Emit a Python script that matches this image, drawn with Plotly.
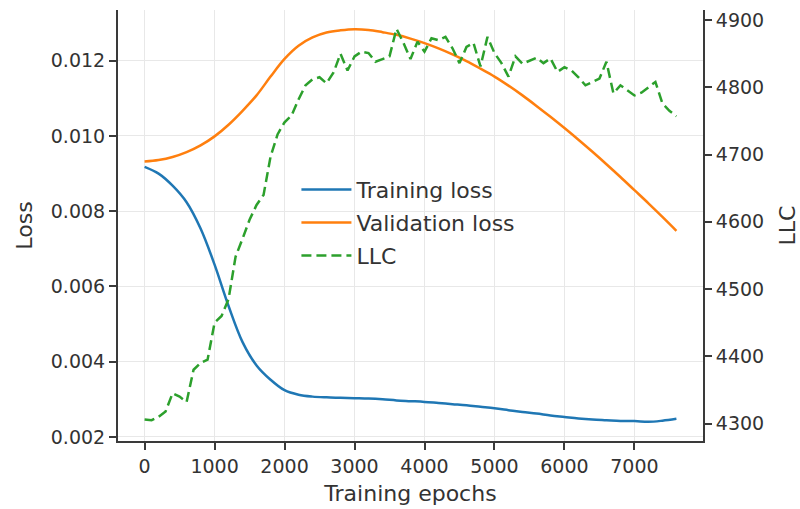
import plotly.graph_objects as go

# ---- data ----
loss_epochs = list(range(0, 7601, 200))
training_loss = [0.00918, 0.00900, 0.00868, 0.00824, 0.00754, 0.00658, 0.00548, 0.00452,
                 0.00390, 0.00352, 0.00324, 0.00312, 0.00307, 0.00305, 0.00304, 0.00303,
                 0.00302, 0.00300, 0.00297, 0.00295, 0.00293, 0.00290, 0.00287, 0.00284,
                 0.00280, 0.00276, 0.00271, 0.00266, 0.00262, 0.00257, 0.00253, 0.00249,
                 0.00246, 0.00244, 0.00242, 0.00242, 0.00240, 0.00243, 0.00248]
validation_loss = [0.00932, 0.00936, 0.00944, 0.00957, 0.00975, 0.00999, 0.01030, 0.01067,
                   0.01108, 0.01158, 0.01205, 0.01240, 0.01262, 0.01275, 0.01281, 0.01284,
                   0.01282, 0.01276, 0.01269, 0.01259, 0.01247, 0.01233, 0.01217, 0.01199,
                   0.01179, 0.01158, 0.01134, 0.01108, 0.01080, 0.01051, 0.01021, 0.00990,
                   0.00958, 0.00925, 0.00891, 0.00856, 0.00821, 0.00785, 0.00748]

llc_epochs = list(range(0, 7601, 100))
llc = [4306, 4305, 4310, 4318, 4345, 4340, 4332, 4380, 4390, 4395,
       4450, 4460, 4485, 4548, 4575, 4603, 4625, 4640, 4697, 4730,
       4748, 4758, 4782, 4803, 4812, 4815, 4806, 4822, 4850, 4825,
       4846, 4853, 4851, 4838, 4842, 4846, 4887, 4866, 4842, 4868,
       4853, 4873, 4870, 4875, 4858, 4836, 4860, 4866, 4831, 4875,
       4851, 4836, 4816, 4846, 4835, 4840, 4844, 4836, 4843, 4823,
       4830, 4825, 4815, 4803, 4808, 4813, 4838, 4791, 4803, 4795,
       4788, 4792, 4800, 4808, 4776, 4765, 4757]

x_ticks = [0, 1000, 2000, 3000, 4000, 5000, 6000, 7000]

FONT = "DejaVu Sans"
TXT = "#333333"
GRID = "#e8e8e8"
SPINE = "#3a3a3a"
TICK_SIZE = 19
LABEL_SIZE = 22

fig = go.Figure()
fig.add_trace(go.Scatter(x=loss_epochs, y=training_loss, mode="lines", name="Training loss",
                         line=dict(color="#1f77b4", width=2.5, shape="spline"),
                         legendgroup="a"))
fig.add_trace(go.Scatter(x=loss_epochs, y=validation_loss, mode="lines", name="Validation loss",
                         line=dict(color="#ff7f0e", width=2.5, shape="spline"),
                         legendgroup="b"))
fig.add_trace(go.Scatter(x=llc_epochs, y=llc, mode="lines", name="LLC", yaxis="y2",
                         line=dict(color="#2ca02c", width=2.5, dash="10px,5px"),
                         legendgroup="c"))

fig.update_layout(
    width=800, height=509,
    margin=dict(l=118, r=97, t=10, b=68, autoexpand=False),
    paper_bgcolor="white", plot_bgcolor="white",
    font=dict(family=FONT, size=TICK_SIZE, color=TXT),
    showlegend=True,
    legend=dict(x=0.305, y=0.632, xanchor="left", yanchor="top",
                bgcolor="rgba(0,0,0,0)", borderwidth=0, itemwidth=50,
                font=dict(family=FONT, size=LABEL_SIZE, color=TXT),
                tracegroupgap=1.5),
    xaxis=dict(range=[-380, 7980], tickvals=x_ticks, ticks="outside", ticklen=7,
               tickwidth=1.5, tickcolor=SPINE, showline=True, linecolor=SPINE, linewidth=2,
               showgrid=True, gridcolor=GRID, gridwidth=1, zeroline=False, automargin=False,
               title=dict(text="Training epochs", font=dict(size=LABEL_SIZE), standoff=10),
               tickfont=dict(size=TICK_SIZE)),
    yaxis=dict(range=[0.00189, 0.01335], tick0=0.002, dtick=0.002, tickformat=".3f",
               ticks="outside", ticklen=7, tickwidth=1.5, tickcolor=SPINE,
               showline=True, linecolor=SPINE, linewidth=2, automargin=False,
               showgrid=True, gridcolor=GRID, gridwidth=1, zeroline=False,
               title=dict(text="Loss", font=dict(size=LABEL_SIZE), standoff=12),
               tickfont=dict(size=TICK_SIZE)),
    yaxis2=dict(range=[4274, 4915], tick0=4300, dtick=100, overlaying="y", side="right",
                ticks="outside", ticklen=7, tickwidth=1.5, tickcolor=SPINE,
                showline=True, linecolor=SPINE, linewidth=2, showgrid=False, zeroline=False,
                automargin=False,
                title=dict(text="LLC", font=dict(size=LABEL_SIZE), standoff=18),
                tickfont=dict(size=TICK_SIZE)),
)

fig.write_html("out.html")
